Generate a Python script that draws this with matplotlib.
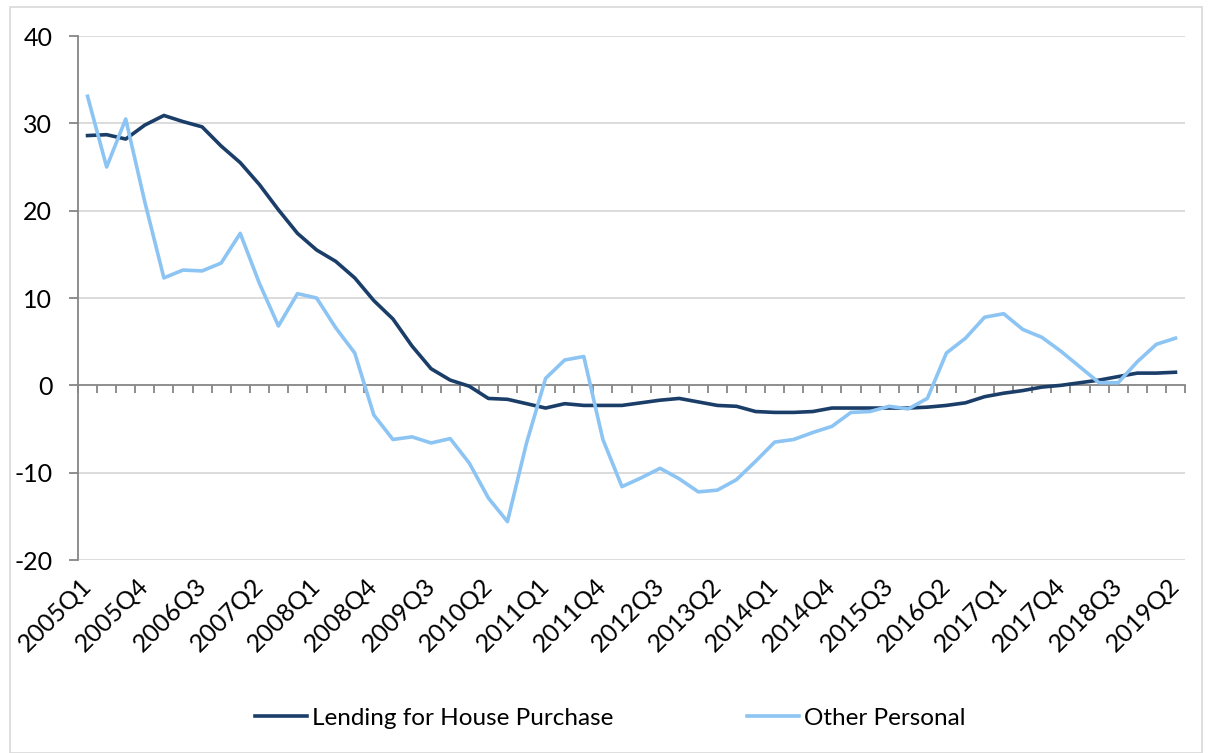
import matplotlib
matplotlib.use("Agg")
import matplotlib.pyplot as plt
from matplotlib.patches import Rectangle

plt.rcParams['font.family'] = ['Lato', 'DejaVu Sans']

quarters = [f"{y}Q{q}" for y in range(2005, 2020) for q in range(1, 5)][:58]

house_purchase = [28.6, 28.7, 28.2, 29.8, 30.9, 30.2, 29.6, 27.4, 25.5, 23.0,
                  20.1, 17.4, 15.5, 14.2, 12.3, 9.7, 7.6, 4.5, 1.9, 0.6,
                  -0.1, -1.5, -1.6, -2.1, -2.6, -2.1, -2.3, -2.3, -2.3, -2.0,
                  -1.7, -1.5, -1.9, -2.3, -2.4, -3.0, -3.1, -3.1, -3.0, -2.6,
                  -2.6, -2.6, -2.6, -2.6, -2.5, -2.3, -2.0, -1.3, -0.9, -0.6,
                  -0.2, 0.0, 0.3, 0.6, 1.0, 1.4, 1.4, 1.5]

other_personal = [33.1, 25.0, 30.5, 21.0, 12.3, 13.2, 13.1, 14.0, 17.4, 11.7,
                  6.8, 10.5, 10.0, 6.6, 3.7, -3.4, -6.2, -5.9, -6.6, -6.1,
                  -8.9, -12.9, -15.6, -6.6, 0.8, 2.9, 3.3, -6.2, -11.6, -10.6,
                  -9.5, -10.7, -12.2, -12.0, -10.8, -8.7, -6.5, -6.2, -5.4, -4.7,
                  -3.1, -3.0, -2.4, -2.7, -1.5, 3.7, 5.4, 7.8, 8.2, 6.4,
                  5.5, 3.9, 2.1, 0.3, 0.3, 2.7, 4.7, 5.4]

y_ticks = [-20, -10, 0, 10, 20, 30, 40]

W, H = 1208, 753
fig = plt.figure(figsize=(W / 100, H / 100), dpi=100)
fig.patches.append(Rectangle((10 / W, 0), 1192 / W, 1 - 7 / H, transform=fig.transFigure,
                             fill=False, edgecolor='#D9D9D9', linewidth=1.2))

ax = fig.add_axes([78 / W, 1 - 560 / H, (1185 - 78) / W, (560 - 36) / H])

x = list(range(len(quarters)))
ax.plot(x, house_purchase, color='#1B3E69', linewidth=2.6, label='Lending for House Purchase',
        solid_joinstyle='round', zorder=3)
ax.plot(x, other_personal, color='#8CC4F4', linewidth=2.6, label='Other Personal',
        solid_joinstyle='round', zorder=3)

ax.set_xlim(-0.5, len(quarters) - 0.5)
ax.set_ylim(-20, 40)
ax.set_yticks(y_ticks)
ax.set_yticklabels([str(v) for v in y_ticks])
for v in y_ticks:
    if v != 0:
        ax.axhline(v, color='#D9D9D9', linewidth=1.3, zorder=1)

for s in ['top', 'right']:
    ax.spines[s].set_visible(False)
ax.spines['left'].set_color('#868686')
ax.spines['left'].set_linewidth(1.3)
ax.spines['bottom'].set_position(('data', 0))
ax.spines['bottom'].set_color('#868686')
ax.spines['bottom'].set_linewidth(1.3)
ax.set_xticks([i - 0.5 for i in range(len(quarters) + 1)])
ax.set_xticklabels([])
ax.tick_params(axis='x', direction='out', length=6, width=1.3, color='#868686')
ax.tick_params(axis='y', direction='out', length=6.5, width=1.3, color='#868686',
               labelsize=18, pad=12)

sec = ax.secondary_xaxis('bottom')
sec.set_xticks(x[::3])
sec.set_xticklabels(quarters[::3], rotation=45, ha='right', rotation_mode='anchor',
                    va='center', fontsize=18)
sec.tick_params(length=0, pad=16)
sec.spines['bottom'].set_visible(False)

handles, labels = ax.get_legend_handles_labels()
fig.legend(handles, labels, loc='center', bbox_to_anchor=(0.505, 1 - 718 / H), ncol=2,
           frameon=False, fontsize=17.5, handlelength=2.15, columnspacing=5.5,
           handletextpad=0.2)

fig.savefig('out.png', dpi=100)
